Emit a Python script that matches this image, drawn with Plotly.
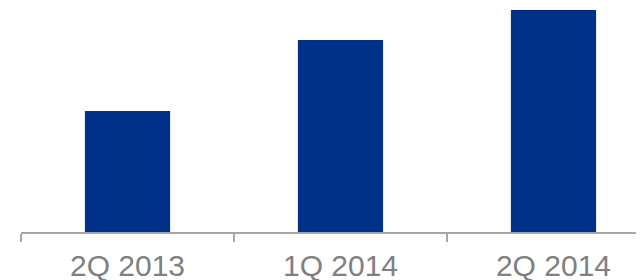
import plotly.graph_objects as go

categories = ["2Q 2013", "1Q 2014", "2Q 2014"]
values = [121, 192, 222]

fig = go.Figure(go.Bar(
    x=categories, y=values,
    marker=dict(color="#003087", line=dict(width=0)),
    width=0.4,
))

fig.update_layout(
    template="none",
    width=636, height=272,
    margin=dict(l=13, r=0, t=0, b=48, pad=0),
    paper_bgcolor="white", plot_bgcolor="white",
    showlegend=False,
)
fig.update_xaxes(
    type="category",
    automargin=False,
    range=[-0.5, 2.425],
    tickson="boundaries",
    ticks="outside", ticklen=8, tickwidth=2, tickcolor="#a6a6a6",
    showline=True, linecolor="#a6a6a6", linewidth=2,
    showgrid=False, zeroline=False,
    ticklabelstandoff=6,
    tickfont=dict(family="Liberation Sans, Arial", size=30, color="#808080"),
)
fig.update_yaxes(
    automargin=False,
    range=[0, 224], visible=False, showgrid=False, zeroline=False,
)

fig.write_html("out.html")
